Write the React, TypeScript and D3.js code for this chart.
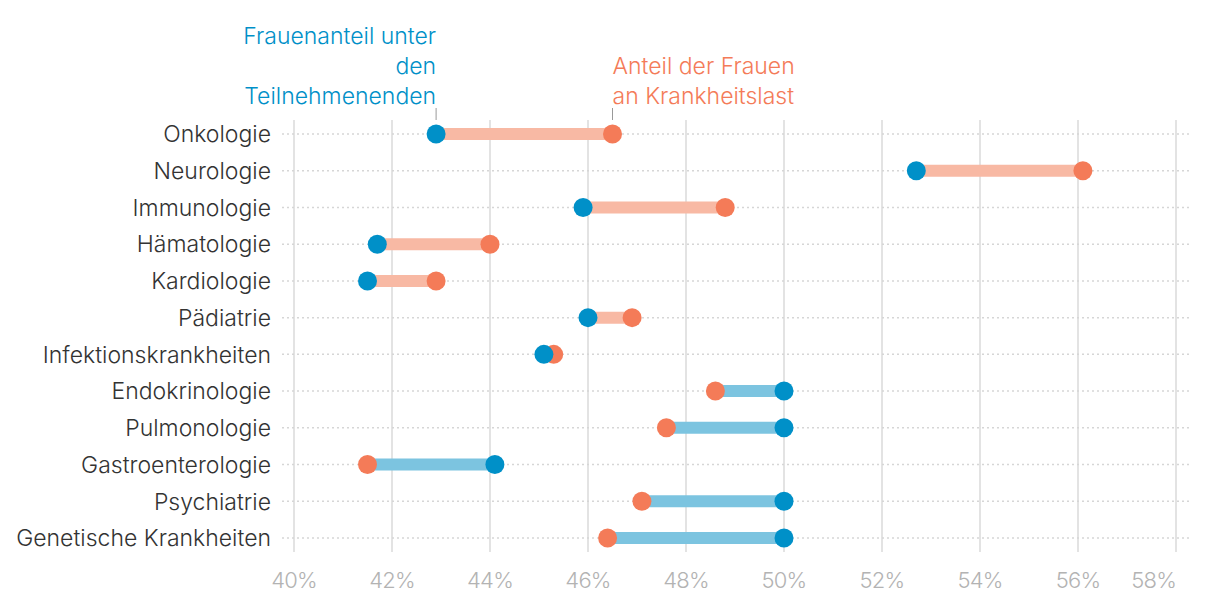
import React from "react";
import * as d3 from "d3";

const categories = [
  "Onkologie", "Neurologie", "Immunologie", "Hämatologie", "Kardiologie", "Pädiatrie",
  "Infektionskrankheiten", "Endokrinologie", "Pulmonologie", "Gastroenterologie",
  "Psychiatrie", "Genetische Krankheiten",
];
const participants = [42.9, 52.7, 45.9, 41.7, 41.5, 46.0, 45.1, 50.0, 50.0, 44.1, 50.0, 50.0];
const diseaseBurden = [46.5, 56.1, 48.8, 44.0, 42.9, 46.9, 45.3, 48.6, 47.6, 41.5, 47.1, 46.4];
const ticks = [40, 42, 44, 46, 48, 50, 52, 54, 56, 58];

const BLUE = "#0090c8";
const ORANGE = "#f47b58";
const BLUE_L = "#7cc4e0";
const ORANGE_L = "#f8b9a4";
const FONT = "Inter, 'Noto Sans', sans-serif";

export default function App() {
  const W = 1220, H = 602;
  const x = d3.scaleLinear().domain([40, 58]).range([294, 1176]);
  const y = d3.scalePoint<string>().domain(categories).range([134, 538]);
  return (
    <svg width={W} height={H} style={{ position: "absolute", left: 0, top: 0 }} fontFamily={FONT}>
      {ticks.map((t, i) => (
        <g key={t}>
          <line x1={x(t)} x2={x(t)} y1={120} y2={552} stroke="#e3e3e3" strokeWidth={2} />
          <text x={x(t)} y={588} textAnchor={i === ticks.length - 1 ? "end" : "middle"}
            fontSize={22} fill="#b3b3b3" fontWeight={300} letterSpacing={-0.8}>{t}%</text>
        </g>
      ))}
      {categories.map((c, i) => {
        const yy = y(c)!;
        const p = participants[i], d = diseaseBurden[i];
        const lo = Math.min(p, d), hi = Math.max(p, d);
        return (
          <g key={c}>
            <line x1={282} x2={1190} y1={yy} y2={yy} stroke="#d6d6d6" strokeWidth={1.5} strokeDasharray="2,3" />
            <text x={271} y={yy} dy="0.36em" textAnchor="end" fontSize={23} fill="#333" fontWeight={300}>{c}</text>
            <line x1={x(lo)} x2={x(hi)} y1={yy} y2={yy} stroke={d > p ? ORANGE_L : BLUE_L} strokeWidth={12} />
            <circle cx={x(d)} cy={yy} r={9.5} fill={ORANGE} />
            <circle cx={x(p)} cy={yy} r={9.5} fill={BLUE} />
          </g>
        );
      })}
      <line x1={x(participants[0])} x2={x(participants[0])} y1={108} y2={120} stroke="#999" strokeWidth={1} />
      <line x1={x(diseaseBurden[0])} x2={x(diseaseBurden[0])} y1={108} y2={120} stroke="#999" strokeWidth={1} />
      <text textAnchor="end" fontSize={23} fill={BLUE} fontWeight={300}>
        <tspan x={x(participants[0])} y={44}>Frauenanteil unter</tspan>
        <tspan x={x(participants[0])} y={74}>den</tspan>
        <tspan x={x(participants[0])} y={104}>Teilnehmenenden</tspan>
      </text>
      <text textAnchor="start" fontSize={23} fill={ORANGE} fontWeight={300}>
        <tspan x={x(diseaseBurden[0])} y={74}>Anteil der Frauen</tspan>
        <tspan x={x(diseaseBurden[0])} y={104}>an Krankheitslast</tspan>
      </text>
    </svg>
  );
}
